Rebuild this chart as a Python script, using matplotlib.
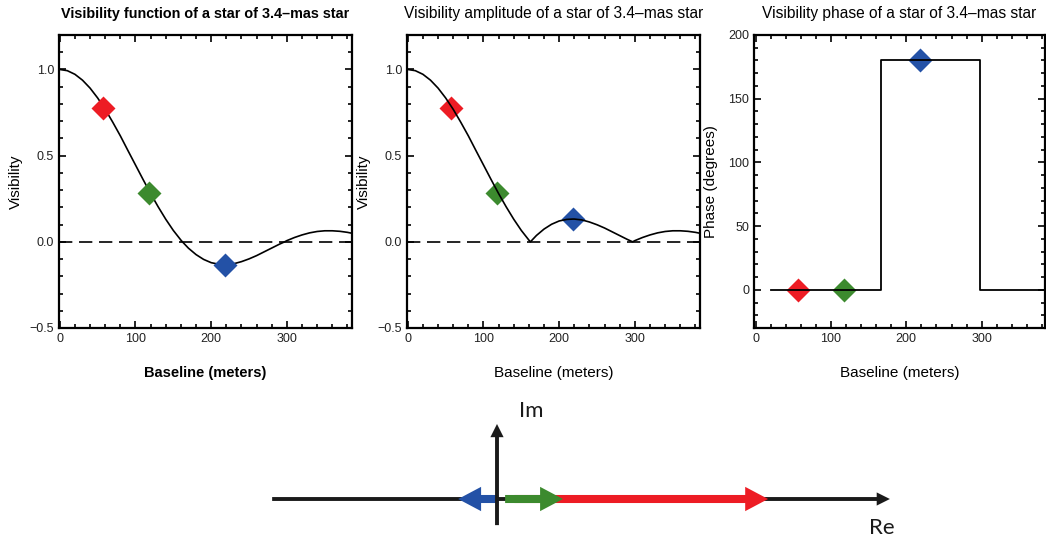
import numpy as np
import matplotlib
matplotlib.use("Agg")
import matplotlib.pyplot as plt
from matplotlib.patches import FancyArrowPatch, ArrowStyle
from matplotlib.ticker import MultipleLocator

plt.rcParams['font.family'] = ['Liberation Sans', 'DejaVu Sans']

# Uniform-disk visibility sampled along the baseline (meters)
baseline = [0, 10, 20, 30, 40, 50, 60, 70, 80, 90, 100, 110, 120, 130, 140,
            150, 160, 162, 170, 180, 190, 200, 210, 218, 220, 230, 240, 250,
            260, 270, 280, 290, 297, 300, 310, 320, 330, 340, 350, 360, 370,
            380, 390]
visibility = [1.000, 0.993, 0.972, 0.938, 0.892, 0.835, 0.769, 0.694, 0.615,
              0.530, 0.446, 0.362, 0.280, 0.203, 0.131, 0.066, 0.010, 0.000,
              -0.037, -0.074, -0.102, -0.121, -0.130, -0.132, -0.132, -0.127,
              -0.115, -0.099, -0.080, -0.058, -0.036, -0.014, 0.000, 0.007,
              0.025, 0.040, 0.052, 0.060, 0.064, 0.064, 0.061, 0.055, 0.046]

# Phase of the visibility (degrees)
phase_baseline = [20, 167, 167, 298, 298, 390]
phase_deg = [0, 0, 180, 180, 0, 0]

# Three sampled baselines
sample_baseline = [57, 118, 218]
sample_visibility = [0.775, 0.285, -0.132]
sample_phase = [0, 0, 180]
sample_colors = ['#ED1C24', '#3C8A2E', '#2351A6']

# Phasor diagram (real-axis values of each arrow's tail and tip)
phasor_tail = [0.05, 0.023, 0.003]
phasor_tip = [0.768, 0.187, -0.110]

fig = plt.figure(figsize=(10.46, 5.39), dpi=100)
W, H = 1046.0, 539.0
MS = 12


def make_axes(left_px, width_px):
    return fig.add_axes([left_px / W, (H - 328) / H, width_px / W, 293 / H])


def style_axes(ax):
    for s in ax.spines.values():
        s.set_linewidth(1.6)
    ax.tick_params(which='both', direction='in', top=True, right=True,
                   labelsize=9, labelcolor='#222222', width=1.2)
    ax.tick_params(which='major', length=5)
    ax.tick_params(which='minor', length=3)
    ax.xaxis.set_major_locator(MultipleLocator(100))
    ax.xaxis.set_minor_locator(MultipleLocator(20))


b = np.array(baseline)
v = np.array(visibility)
amp = np.abs(v)

# Panel 1: visibility function
ax1 = make_axes(59, 293)
style_axes(ax1)
ax1.axhline(0, color='black', lw=1.2, ls=(0, (8, 4)))
ax1.plot(b, v, color='black', lw=1.2, zorder=2)
for xb, yv, c in zip(sample_baseline, sample_visibility, sample_colors):
    ax1.plot(xb, yv, marker='D', ms=MS, color=c, mec='none', zorder=3)
ax1.set_xlim(-1, 386)
ax1.set_ylim(-0.5, 1.2)
ax1.yaxis.set_major_locator(MultipleLocator(0.5))
ax1.yaxis.set_minor_locator(MultipleLocator(0.1))
ax1.set_title('Visibility function of a star of 3.4\u2013mas star',
              fontsize=10.4, fontweight='bold', pad=12)
ax1.set_xlabel('Baseline (meters)', fontsize=10.5, fontweight='bold', labelpad=15)
ax1.set_ylabel('Visibility', fontsize=11, labelpad=5)

# Panel 2: visibility amplitude
ax2 = make_axes(407, 293)
style_axes(ax2)
ax2.axhline(0, color='black', lw=1.2, ls=(0, (8, 4)))
for xb, yv, c in zip(sample_baseline, sample_visibility, sample_colors):
    ax2.plot(xb, abs(yv), marker='D', ms=MS, color=c, mec='none', zorder=2)
ax2.plot(b, amp, color='black', lw=1.2, zorder=3)
ax2.set_xlim(-1, 386)
ax2.set_ylim(-0.5, 1.2)
ax2.yaxis.set_major_locator(MultipleLocator(0.5))
ax2.yaxis.set_minor_locator(MultipleLocator(0.1))
ax2.set_title('Visibility amplitude of a star of 3.4\u2013mas star',
              fontsize=11.2, pad=12)
ax2.set_xlabel('Baseline (meters)', fontsize=11, labelpad=15)
ax2.set_ylabel('Visibility', fontsize=11, labelpad=5)

# Panel 3: visibility phase
ax3 = make_axes(754, 291)
style_axes(ax3)
for xb, ph, c in zip(sample_baseline, sample_phase, sample_colors):
    ax3.plot(xb, ph, marker='D', ms=MS, color=c, mec='none', zorder=2)
ax3.plot(phase_baseline, phase_deg, color='black', lw=1.3, zorder=3)
ax3.set_xlim(-2, 384)
ax3.set_ylim(-30, 200)
ax3.yaxis.set_major_locator(MultipleLocator(50))
ax3.yaxis.set_minor_locator(MultipleLocator(10))
ax3.set_title('Visibility phase of a star of 3.4\u2013mas star',
              fontsize=11.2, pad=12)
ax3.set_xlabel('Baseline (meters)', fontsize=11, labelpad=15)
ax3.set_ylabel('Phase (degrees)', fontsize=11, labelpad=7)

# Phasor diagram in the complex plane
S = 353.0
ax4 = fig.add_axes([0, 0, 1, 140 / H])
ax4.set_xlim(-497 / S, (W - 497) / S)
ax4.set_ylim(-40 / S, 100 / S)
ax4.axis('off')


def arrow(x0, y0, x1, y1, color, hl, hw, tw, z):
    p = FancyArrowPatch((x0, y0), (x1, y1),
                        arrowstyle=ArrowStyle.Simple(head_length=hl, head_width=hw,
                                                     tail_width=tw),
                        mutation_scale=1, color=color, lw=0,
                        shrinkA=0, shrinkB=0, zorder=z)
    ax4.add_patch(p)


arrow(-0.637, 0, 1.113, 0, '#1a1a1a', 9.5, 9.5, 2.8, 1)
for i, (t0, t1, c) in enumerate(zip(phasor_tail, phasor_tip, sample_colors)):
    arrow(t0, 0, t1, 0, c, 16.5, 17.5, 5.8, 2 + i)
arrow(0, -0.074, 0, 0.2125, '#1a1a1a', 9.5, 9.5, 2.8, 6)

ax4.text(0.062, 0.248, 'Im', fontsize=16, family=['Lato', 'DejaVu Sans'],
         color='#1a1a1a', ha='left', va='center')
ax4.text(1.055, -0.082, 'Re', fontsize=16, family=['Lato', 'DejaVu Sans'],
         color='#1a1a1a', ha='left', va='center')

fig.savefig('out.png', dpi=100)
